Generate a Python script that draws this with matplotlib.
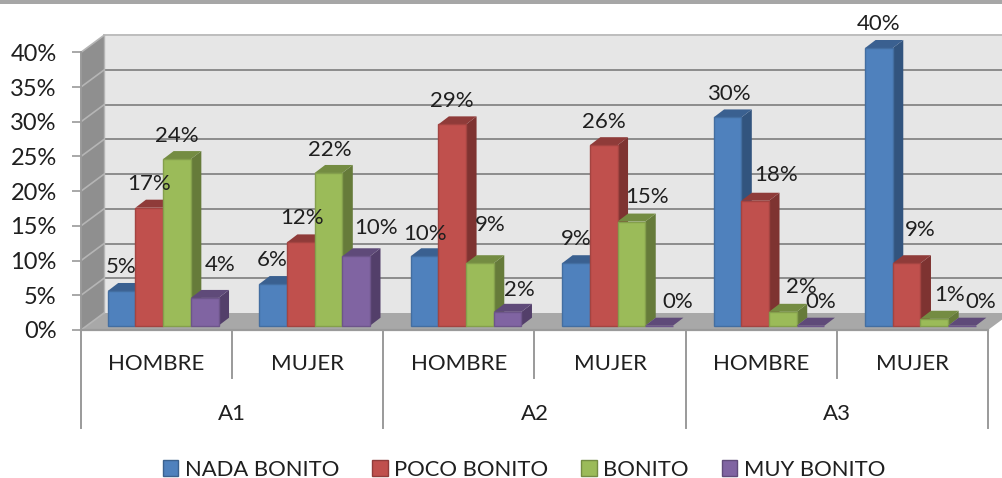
import matplotlib
matplotlib.use("Agg")
import matplotlib.pyplot as plt
from matplotlib.patches import Polygon, Patch, Rectangle
from matplotlib.colors import to_rgb

plt.rcParams['font.family'] = ['Lato', 'DejaVu Sans']

groups = ['A1', 'A2', 'A3']
subcategories = ['HOMBRE', 'MUJER'] * 3
series_names = ['NADA BONITO', 'POCO BONITO', 'BONITO', 'MUY BONITO']
nada_bonito = [5, 6, 10, 9, 30, 40]
poco_bonito = [17, 12, 29, 26, 18, 9]
bonito = [24, 22, 9, 15, 2, 1]
muy_bonito = [4, 10, 2, 0, 0, 0]
series_values = [nada_bonito, poco_bonito, bonito, muy_bonito]
yticks = [0, 5, 10, 15, 20, 25, 30, 35, 40]

front = ['#4F81BD', '#C0504D', '#9BBB59', '#8064A2']
top = ['#3A6090', '#8F3B39', '#748C42', '#5F4A79']
side = ['#32547E', '#7E3331', '#667B3A', '#533F6A']

# label offsets in pixels from each bar's top centre, per category, per series
label_offsets = [
    [(0, 24), (0, 24), (0, 23), (15, 33)],
    [(-1, 24), (1, 24), (1, 23), (20, 28)],
    [(0, 22), (0, 23), (10, 38), (12, 22)],
    [(0, 24), (0, 23), (16, 25), (19, 24)],
    [(1, 23), (21, 26), (19, 25), (10, 24)],
    [(0, 24), (14, 33), (15, 24), (19, 24)],
]

TEXT = '#1F1F1F'
W, H = 1003, 478
fig = plt.figure(figsize=(W / 100, H / 100), dpi=100)
L, R, B, T = 81, 988, 330, 52.3
ax = fig.add_axes([L / W, 1 - B / H, (R - L) / W, (B - T) / H])
ax.set_xlim(0, 6)
ax.set_ylim(0, 40)
ax.patch.set_visible(False)
for s in ax.spines.values():
    s.set_visible(False)

ux = (R - L) / 6          # pixels per category
uy = (B - T) / 40         # pixels per percent
DX, DY = 23 / ux, 17 / uy  # chart depth in data units
dx, dy = 10.5 / ux, 8 / uy  # bar depth
bw = 27.7 / ux
sx, sy = 6.4 / ux, 4.3 / uy  # bars sit inside the floor
STRETCH = 1.002


def poly(pts, fc, ec='none', lw=0, z=1):
    ax.add_patch(Polygon(pts, closed=True, facecolor=fc, edgecolor=ec,
                         linewidth=lw, zorder=z, clip_on=False))


# band at the top of the picture
fig.add_artist(Rectangle((0, 1 - 4 / H), 1, 4 / H, transform=fig.transFigure,
                         facecolor='#A6A6A6', edgecolor='none'))

# walls and floor
poly([(DX, DY), (6 + DX, DY), (6 + DX, 40 + DY), (DX, 40 + DY)], '#E6E6E6', z=1)
poly([(0, 0), (DX, DY), (DX, 40 + DY), (0, 40)], '#8F8F8F', z=1)
poly([(0, 0), (6, 0), (6 + DX, DY), (DX, DY)], '#A8A8A8', z=1)

for v in yticks:
    if v == 0:
        continue
    ax.plot([DX, 6 + DX], [v + DY, v + DY], color='#8C8C8C' if v < 40 else '#BDBDBD',
            lw=1.4, zorder=2, clip_on=False)
for v in yticks:
    ax.plot([0, DX], [v, v + DY], color='#B5B5B5', lw=1.2, zorder=2, clip_on=False)
ax.plot([DX, DX], [DY, 40 + DY], color='#B5B5B5', lw=1.0, zorder=2, clip_on=False)
ax.plot([0, 0], [0, 40], color='#9A9A9A', lw=1.4, zorder=2, clip_on=False)
ax.plot([0, 6], [0, 0], color='#9A9A9A', lw=1.6, zorder=2, clip_on=False)

# bars
for c in range(6):
    for i, vals in enumerate(series_values):
        v = vals[c]
        x0 = (c + 0.5) * STRETCH + sx + (i - 2) * bw
        x1 = x0 + bw
        y0 = sy
        y1 = sy + v
        z = 3 + c + i * 0.1
        edge = tuple(0.85 * a for a in to_rgb(front[i]))
        poly([(x1, y0), (x1 + dx, y0 + dy), (x1 + dx, y1 + dy), (x1, y1)], side[i], z=z)
        poly([(x0, y1), (x1, y1), (x1 + dx, y1 + dy), (x0 + dx, y1 + dy)], top[i], z=z)
        ax.add_patch(Rectangle((x0, y0), bw, v, facecolor=front[i], edgecolor=edge,
                               linewidth=1.0, zorder=z, clip_on=False))
        ox, oy = label_offsets[c][i]
        ax.annotate(f'{v}%', xy=((x0 + x1) / 2, y1), xytext=(ox, oy),
                    textcoords='offset pixels', ha='center', va='center',
                    fontsize=16, color=TEXT, zorder=30, annotation_clip=False)

# axes
ax.set_yticks(yticks)
ax.set_yticklabels([f'{v}%' for v in yticks], fontsize=17, color=TEXT)
ax.tick_params(axis='y', length=6.5, width=1.2, color='#9A9A9A', pad=11)
ax.set_xticks([c + 0.5 for c in range(6)])
ax.set_xticklabels(subcategories, fontsize=16, color=TEXT)
ax.tick_params(axis='x', length=0, pad=17)

xt = ax.get_xaxis_transform()
for c in range(7):
    bottom = 428 if c % 2 == 0 else 378
    ax.plot([c, c], [0, -(bottom - B) / (B - T)], transform=xt, color='#9A9A9A', lw=1.4,
            clip_on=False, zorder=2)
for g, name in enumerate(groups):
    ax.annotate(name, xy=(2 * g + 1, 0), xycoords=xt, xytext=(0, -(414 - B)),
                textcoords='offset pixels', ha='center', va='center',
                fontsize=16, color=TEXT, annotation_clip=False)

# legend
handles = [Patch(facecolor=front[i], edgecolor=tuple(0.75 * a for a in to_rgb(front[i])),
                 linewidth=1.0, label=series_names[i]) for i in range(4)]
fig.legend(handles=handles, loc='center', bbox_to_anchor=(524 / W, 1 - 470 / H), ncol=4,
           frameon=False, fontsize=15.8, labelcolor=TEXT, handlelength=0.7,
           handleheight=0.75, handletextpad=0.3, columnspacing=1.5,
           borderpad=0, borderaxespad=0)

fig.savefig('out.png', dpi=100)
